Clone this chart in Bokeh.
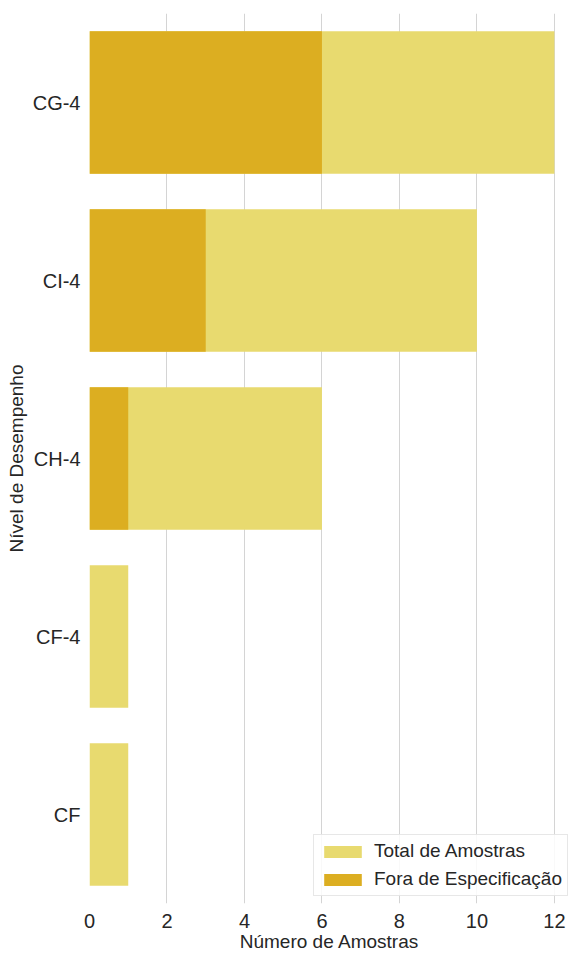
from bokeh.plotting import figure
from bokeh.models import ColumnDataSource, FactorRange, Range1d, Legend, LegendItem, FixedTicker
from bokeh.embed import file_html
from bokeh.resources import INLINE

categories = ["CG-4", "CI-4", "CH-4", "CF-4", "CF"]
total_amostras = [12, 10, 6, 1, 1]
fora_especificacao = [6, 3, 1, 0, 0]
x_ticks = [0, 2, 4, 6, 8, 10, 12]

LIGHT = "#e8da6f"
DARK = "#dcae21"
TEXT = "#262626"
FONT = "Liberation Sans"

src = ColumnDataSource(dict(cat=categories, total=total_amostras, fora=fora_especificacao))

p = figure(width=570, height=955, output_backend="svg", toolbar_location=None,
           y_range=FactorRange(factors=list(reversed(categories)), range_padding=0),
           x_range=Range1d(0, 12.39),
           min_border_left=89, min_border_right=1, min_border_top=13, min_border_bottom=52)
p.outline_line_color = None
p.background_fill_color = "white"

r_total = p.hbar(y="cat", right="total", left=0, height=0.8, source=src,
                 fill_color=LIGHT, line_color=None)
r_fora = p.hbar(y="cat", right="fora", left=0, height=0.8, source=src,
                fill_color=DARK, line_color=None)

p.xaxis.ticker = FixedTicker(ticks=x_ticks)
for ax in (p.xaxis[0], p.yaxis[0]):
    ax.axis_line_color = None
    ax.major_tick_line_color = None
    ax.minor_tick_line_color = None
    ax.major_label_text_font = FONT
    ax.major_label_text_font_size = "20px"
    ax.major_label_text_color = TEXT
    ax.axis_label_text_font = FONT
    ax.axis_label_text_font_size = "19px"
    ax.axis_label_text_font_style = "normal"
    ax.axis_label_text_color = TEXT
p.xaxis.axis_label = "Número de Amostras"
p.yaxis.axis_label = "Nível de Desempenho"
p.xaxis.major_label_standoff = 4
p.xaxis.axis_label_standoff = 0
p.yaxis.major_label_standoff = 3
p.yaxis.axis_label_standoff = 3

p.xgrid.grid_line_color = "#d4d4d4"
p.xgrid.grid_line_width = 1
p.ygrid.grid_line_color = None

legend = Legend(items=[LegendItem(label="Total de Amostras", renderers=[r_total]),
                       LegendItem(label="Fora de Especificação", renderers=[r_fora])],
                location=(224, 7))
legend.label_text_font = FONT
legend.label_text_font_size = "19px"
legend.label_text_color = TEXT
legend.glyph_width = 47
legend.glyph_height = 15
legend.label_height = 20
legend.label_standoff = 8
legend.padding = 5
legend.spacing = 6
legend.margin = 0
legend.border_line_color = "#d0d0d0"
legend.border_line_width = 1
legend.background_fill_color = "white"
legend.background_fill_alpha = 0.85
p.add_layout(legend)

open("out.html", "w").write(file_html(p, INLINE))
